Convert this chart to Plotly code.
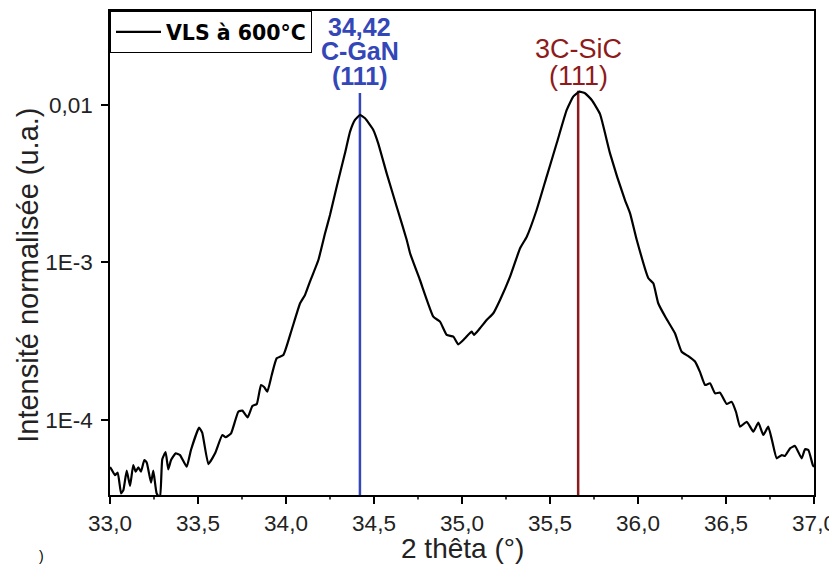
import math
import plotly.graph_objects as go

# ---- data ----
two_theta = [
    33.000, 33.010, 33.028, 33.044, 33.063, 33.076, 33.095, 33.114, 33.132, 33.146,
    33.161, 33.176, 33.195, 33.209, 33.233, 33.246, 33.265, 33.284, 33.297, 33.316,
    33.331, 33.347, 33.373, 33.398, 33.436, 33.460, 33.506, 33.524, 33.559, 33.597,
    33.638, 33.657, 33.688, 33.729, 33.752, 33.782, 33.809, 33.834, 33.858, 33.877,
    33.894, 33.919, 33.947, 33.985, 34.032, 34.080, 34.108, 34.136, 34.184, 34.222,
    34.250, 34.288, 34.335, 34.364, 34.392, 34.420, 34.449, 34.496, 34.524, 34.572,
    34.629, 34.686, 34.705, 34.761, 34.837, 34.875, 34.913, 34.951, 34.979, 35.017,
    35.055, 35.068, 35.102, 35.140, 35.178, 35.216, 35.273, 35.330, 35.368, 35.424,
    35.481, 35.538, 35.595, 35.632, 35.667, 35.699, 35.737, 35.784, 35.841, 35.926,
    35.955, 35.993, 36.059, 36.087, 36.115, 36.159, 36.210, 36.248, 36.284, 36.324,
    36.352, 36.381, 36.409, 36.438, 36.466, 36.504, 36.532, 36.557, 36.580, 36.618,
    36.655, 36.684, 36.712, 36.740, 36.761, 36.788, 36.817, 36.835, 36.864, 36.892,
    36.930, 36.949, 36.968, 36.993, 37.000,
]
intensity = [
    5.03e-5, 4.82e-5, 4.47e-5, 4.63e-5, 3.42e-5, 3.59e-5, 4.77e-5, 3.81e-5, 5.18e-5, 4.70e-5,
    5.01e-5, 4.70e-5, 5.57e-5, 5.36e-5, 4.00e-5, 4.77e-5, 3.42e-5, 3.20e-5, 5.63e-5, 6.26e-5,
    4.86e-5, 5.57e-5, 6.14e-5, 5.99e-5, 5.05e-5, 6.45e-5, 8.94e-5, 8.31e-5, 5.25e-5, 6.14e-5,
    8.03e-5, 7.77e-5, 8.23e-5, 1.129e-4, 1.146e-4, 1.04e-4, 1.227e-4, 1.263e-4, 1.668e-4, 1.613e-4,
    1.512e-4, 1.931e-4, 2.464e-4, 2.586e-4, 3.728e-4, 5.51e-4, 6.22e-4, 7.55e-4, 1.037e-3, 1.532e-3,
    2.002e-3, 3.03e-3, 4.93e-3, 6.77e-3, 8.03e-3, 8.64e-3, 8.23e-3, 6.94e-3, 5.71e-3, 3.68e-3,
    2.26e-3, 1.39e-3, 1.144e-3, 7.74e-4, 4.53e-4, 4.21e-4, 3.47e-4, 3.38e-4, 3.02e-4, 3.30e-4,
    3.64e-4, 3.47e-4, 3.82e-4, 4.31e-4, 4.76e-4, 5.78e-4, 8.12e-4, 1.231e-3, 1.458e-3, 2.154e-3,
    3.51e-3, 5.71e-3, 9.30e-3, 1.129e-2, 1.214e-2, 1.187e-2, 1.076e-2, 8.77e-3, 4.93e-3, 2.49e-3,
    2.05e-3, 1.39e-3, 7.94e-4, 7.38e-4, 5.51e-4, 4.44e-4, 3.55e-4, 2.71e-4, 2.55e-4, 2.35e-4,
    2.02e-4, 1.668e-4, 1.71e-4, 1.477e-4, 1.490e-4, 1.263e-4, 1.306e-4, 1.124e-4, 9.07e-5, 9.75e-5,
    8.43e-5, 9.61e-5, 8.03e-5, 9.07e-5, 7.46e-5, 5.71e-5, 5.99e-5, 5.91e-5, 6.61e-5, 6.84e-5,
    5.71e-5, 6.52e-5, 6.45e-5, 5.18e-5, 5.03e-5,
]

series_name = "VLS à 600°C"
peak_positions = [34.42, 35.66]
peak_line_tops = [0.0119, 0.0123]
peak_labels = [["34,42", "C-GaN", "(111)"], ["3C-SiC", "(111)"]]

x_ticks = [33.0, 33.5, 34.0, 34.5, 35.0, 35.5, 36.0, 36.5, 37.0]
x_minor = [33.25, 33.75, 34.25, 34.75, 35.25, 35.75, 36.25, 36.75]
y_ticks = [1e-4, 1e-3, 1e-2]
y_ticktext = ["1E-4", "1E-3", "0,01"]
y_minor = [4e-5, 5e-5, 6e-5, 7e-5, 8e-5, 9e-5,
           2e-4, 3e-4, 4e-4, 5e-4, 6e-4, 7e-4, 8e-4, 9e-4,
           2e-3, 3e-3, 4e-3, 5e-3, 6e-3, 7e-3, 8e-3, 9e-3,
           2e-2, 3e-2]
y_range_vals = [3.34e-5, 0.0395]

BLUE = "#3447b8"
RED = "#8e1b1b"
TXT = "#222222"
FONT = "Arial, Liberation Sans, sans-serif"
FONT2 = "DejaVu Sans, Verdana, sans-serif"

PLOT_W, PLOT_H = 704, 484
MINOR_LEN = 4.5

y_range = [math.log10(y_range_vals[0]), math.log10(y_range_vals[1])]

fig = go.Figure()

# peak marker lines
for pos, top, col in zip(peak_positions, peak_line_tops, [BLUE, RED]):
    fig.add_trace(go.Scatter(x=[pos, pos], y=[y_range_vals[0], top], mode="lines",
                             line=dict(color=col, width=2.5), showlegend=False,
                             hoverinfo="skip"))

fig.add_trace(go.Scatter(x=two_theta, y=intensity, mode="lines",
                         line=dict(color="black", width=2.2, shape="spline", smoothing=0.4),
                         name="<b>" + series_name + "</b>"))

# minor ticks (outside) as short shapes on the axes
for v in x_minor:
    fig.add_shape(type="line", xref="x", yref="paper", x0=v, x1=v,
                  y0=0, y1=-MINOR_LEN / PLOT_H, line=dict(color="black", width=1.5))
for v in y_minor:
    lv = math.log10(v)
    fig.add_shape(type="line", xref="paper", yref="y", x0=0, x1=-MINOR_LEN / PLOT_W,
                  y0=lv, y1=lv, line=dict(color="black", width=1.5))

# peak annotations
blue_y = [0.967, 0.917, 0.866]
for txt, yy in zip(peak_labels[0], blue_y):
    fig.add_annotation(x=peak_positions[0], y=yy, xref="x", yref="paper",
                       text="<b>" + txt + "</b>", showarrow=False,
                       font=dict(family=FONT, size=25, color=BLUE),
                       xanchor="center", yanchor="middle")
red_y = [0.9225, 0.865]
for txt, yy in zip(peak_labels[1], red_y):
    fig.add_annotation(x=peak_positions[1], y=yy, xref="x", yref="paper",
                       text=txt, showarrow=False,
                       font=dict(family=FONT, size=27, color=RED),
                       xanchor="center", yanchor="middle")

# axis titles
fig.add_annotation(x=0.5, y=-0.110, xref="paper", yref="paper", text="2 thêta (°)",
                   showarrow=False, font=dict(family=FONT, size=28, color=TXT),
                   xanchor="center", yanchor="middle")
fig.add_annotation(x=-0.1165, y=0.455, xref="paper", yref="paper",
                   text="Intensité normalisée (u.a.)", textangle=-90,
                   showarrow=False, font=dict(family=FONT, size=29, color=TXT),
                   xanchor="center", yanchor="middle")

# fragment of a panel label at bottom-left
fig.add_annotation(x=-0.098, y=-0.145, xref="paper", yref="paper", text=")",
                   showarrow=False, font=dict(family=FONT, size=14, color="black"),
                   xanchor="center", yanchor="bottom", borderpad=0)

fig.update_layout(
    width=829, height=558,
    margin=dict(l=102, r=23, t=3, b=71, autoexpand=False),
    paper_bgcolor="white", plot_bgcolor="white",
    separators=",.",
    font=dict(family=FONT, color=TXT),
    showlegend=True,
    legend=dict(x=0, y=1, xanchor="left", yanchor="top",
                bordercolor="black", borderwidth=1, bgcolor="white",
                font=dict(family=FONT2, size=20.5, color="black"),
                itemwidth=45, tracegroupgap=0),
    xaxis=dict(
        range=[33, 37], tickvals=x_ticks, tickformat=".1f",
        ticks="outside", ticklen=7, tickwidth=1.5, tickcolor="black",
        showline=True, linecolor="black", linewidth=1.5, mirror=True,
        showgrid=False, zeroline=False, automargin=False,
        tickfont=dict(family=FONT, size=22.5, color=TXT),
    ),
    yaxis=dict(
        type="log", range=y_range,
        tickvals=y_ticks, ticktext=y_ticktext,
        ticks="outside", ticklen=7, tickwidth=1.5, tickcolor="black",
        showline=True, linecolor="black", linewidth=1.5, mirror=True,
        showgrid=False, zeroline=False, automargin=False,
        ticklabelstandoff=4,
        tickfont=dict(family=FONT, size=22.5, color=TXT),
    ),
)

fig.write_html("out.html")
